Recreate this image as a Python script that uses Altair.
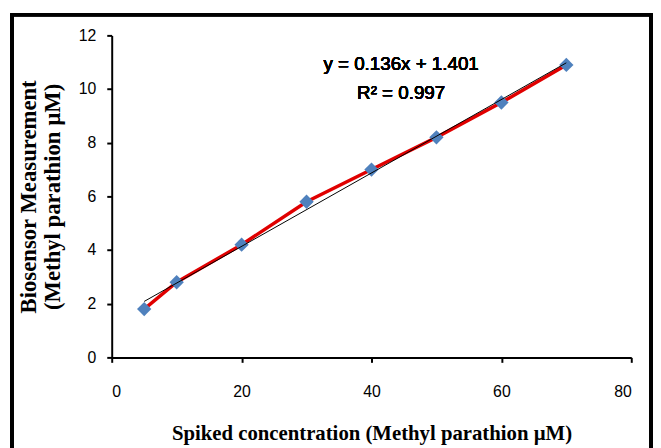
import altair as alt
import pandas as pd

# Data
conc = [5, 10, 20, 30, 40, 50, 60, 70]
meas = [1.8, 2.8, 4.2, 5.8, 7.0, 8.2, 9.5, 10.9]
equation = ["y = 0.136x + 1.401", "R\u00b2 = 0.997"]
x_ticks = [0, 20, 40, 60, 80]
y_ticks = [0, 2, 4, 6, 8, 10, 12]

df = pd.DataFrame({"conc": conc, "meas": meas})

W, H = 526, 326

xenc = alt.X(
    "conc:Q",
    scale=alt.Scale(domain=[0, 80], nice=False),
    axis=alt.Axis(
        values=x_ticks,
        title="Spiked concentration (Methyl parathion \u00b5M)",
        titleFont="Liberation Serif",
        titleFontSize=21,
        titleFontWeight="bold",
        titlePadding=23,
        labelPadding=22,
    ),
)
yenc = alt.Y(
    "meas:Q",
    scale=alt.Scale(domain=[0, 12], nice=False),
    axis=alt.Axis(
        values=y_ticks,
        title=["Biosensor Measurement", "(Methyl parathion \u00b5M)"],
        titleFont="Liberation Serif",
        titleFontSize=23,
        titleFontWeight="bold",
        titleLineHeight=24,
        titlePadding=14,
        labelPadding=11,
    ),
)

base = alt.Chart(df)

frame = base.mark_rect(filled=False, stroke="black", strokeWidth=3).encode(
    x=alt.value(-101), x2=alt.value(546), y=alt.value(-21), y2=alt.value(430)
)

series = base.mark_line(color="#e00000", strokeWidth=3.5).encode(x=xenc, y=yenc)

points = base.mark_point(
    shape="diamond", filled=True, size=210, color="#4F81BD", opacity=1
).encode(x="conc:Q", y="meas:Q")

trend = (
    base.transform_regression("conc", "meas")
    .mark_line(color="black", strokeWidth=1)
    .encode(x="conc:Q", y="meas:Q")
)

eq = base.mark_text(
    font="Liberation Sans",
    fontSize=19,
    lineHeight=29,
    align="center",
    baseline="middle",
    color="black",
).encode(
    x=alt.value(293),
    y=alt.value(29),
    text=alt.value(equation),
)

chart = (
    alt.layer(frame, series, points, trend, eq)
    .properties(
        width=W,
        height=H,
        autosize=alt.AutoSizeParams(type="none"),
        padding={"left": 105, "top": 25, "right": 22, "bottom": 89},
    )
    .configure_view(stroke=None)
    .configure_axis(
        grid=False,
        domainColor="black",
        domainWidth=2,
        tickColor="black",
        tickWidth=2,
        tickSize=5,
        labelFont="Liberation Sans",
        labelFontSize=16,
        labelColor="black",
        titleColor="black",
    )
)

chart.save("out.html", embed_options={"renderer": "svg", "actions": False})
